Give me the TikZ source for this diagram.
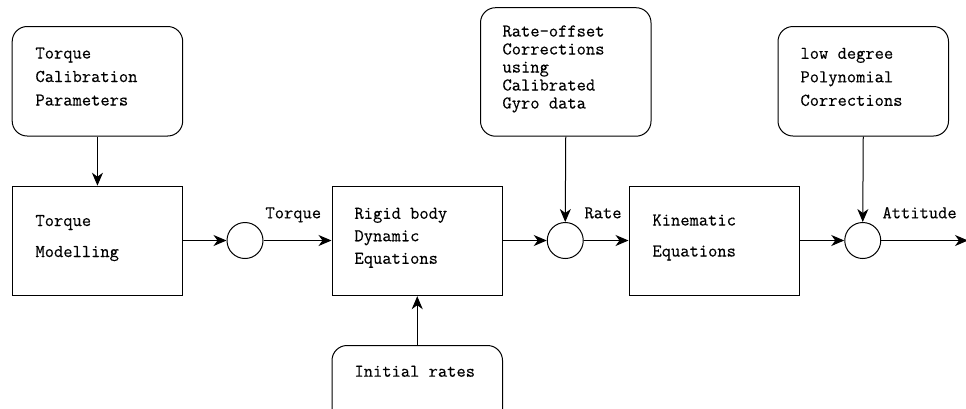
\documentclass[tikz,border=0pt]{standalone}
\usepackage{fontspec}
\setmonofont{Latin Modern Mono}[FakeBold=0.3]
\usetikzlibrary{arrows.meta}
\begin{document}
\begin{tikzpicture}[x=1pt,y=-1pt,line width=1pt,
  box/.style={draw,rectangle,inner sep=0pt,anchor=north west,minimum width=170.5pt,minimum height=109.5pt},
  rbox/.style={box,rounded corners=15pt},
  txt/.style={inner sep=0pt,anchor=north west,align=left},
  lbl/.style={inner sep=0pt,anchor=base west,font=\fontsize{18}{22}\ttfamily},
  sumnode/.style={draw,circle,minimum size=36pt,inner sep=0pt},
  arr/.style={-{Stealth[length=13pt,width=11pt,inset=4pt]}}]
\path[use as bounding box] (0,0) rectangle (966,408);
\clip (0,0) rectangle (966,408);
% boxes
\node[rbox] (tcp) at (11.7,26) {};
\node[box] (tm) at (11.7,185.7) {};
\node[box] (rb) at (331.5,185.7) {};
\node[rbox,minimum height=128.5pt] (ro) at (480,7.2) {};
\node[box] (ke) at (628.5,185.7) {};
\node[rbox] (ld) at (777.5,26) {};
\node[rbox,minimum height=100pt] (ir) at (331.5,345) {};
% texts
\node[txt,font=\fontsize{18}{23.5}\ttfamily] (tcpt) at (35,41.55) {\strut Torque\\Calibration\\Parameters};
\node[txt,font=\fontsize{18}{31}\ttfamily] (tmt) at (35,203.8) {\strut Torque\\Modelling};
\node[txt,font=\fontsize{18}{22.5}\ttfamily] (rbt) at (354,202.5) {\strut Rigid body\\Dynamic\\Equations};
\node[txt,font=\fontsize{18}{18}\ttfamily] (rot) at (502,23.4) {\strut Rate-offset\\Corrections\\using\\Calibrated\\Gyro data};
\node[txt,font=\fontsize{18}{31}\ttfamily] (ket) at (652,203.3) {\strut Kinematic\\Equations};
\node[txt,font=\fontsize{18}{23.5}\ttfamily] (ldt) at (800,41.85) {\strut low degree\\Polynomial\\Corrections};
\node[lbl] (irt) at (354,376.7) {Initial rates};
% summing junctions
\node[sumnode] (s1) at (245,240.5) {};
\node[sumnode] (s2) at (565.25,240.5) {};
\node[sumnode] (s3) at (862.75,240.5) {};
% signal labels
\node[lbl] (lt) at (265,218.3) {Torque};
\node[lbl] (lr) at (584,218.3) {Rate};
\node[lbl] (la) at (882,218.3) {Attitude};
\coordinate (out) at (968,240.5);
% connectors
\draw[arr] (tcp.south) -- (tm.north);
\draw[arr] (tm.east |- s1) -- (s1.west);
\draw[arr] (s1.east) -- (rb.west |- s1);
\draw[arr] (rb.east |- s2) -- (s2.west);
\draw[arr] (s2.east) -- (ke.west |- s2);
\draw[arr] (ke.east |- s3) -- (s3.west);
\draw[arr] (s3.east) -- (out);
\draw[arr] (ro.south) -- (s2.north);
\draw[arr] (ld.south) -- (s3.north);
\draw[arr] (ir.north) -- (rb.south);
\end{tikzpicture}
\end{document}
